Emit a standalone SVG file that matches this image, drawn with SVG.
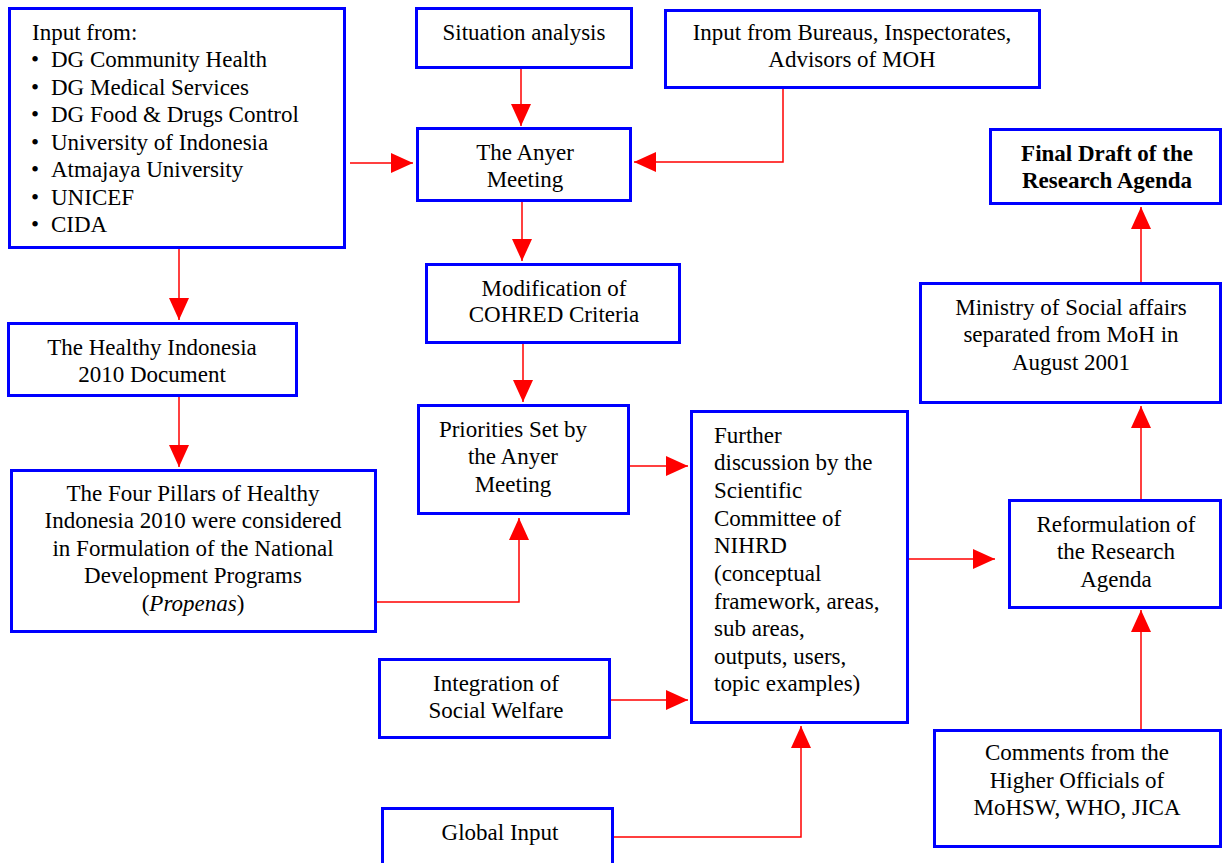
<svg xmlns="http://www.w3.org/2000/svg" width="1223" height="863" viewBox="0 0 1223 863">
<style>
.box{fill:#fff;stroke:#0000ff;stroke-width:3}
.t{font-family:"Liberation Serif","Times New Roman",serif;font-size:23px;fill:#000}
.c{text-anchor:middle}
.b{font-weight:bold}
.ln{fill:none;stroke:#ff0000;stroke-width:1.5}
</style>
<defs>
<marker id="ah" viewBox="0 0 22 20" refX="22" refY="10" markerWidth="22" markerHeight="20" markerUnits="userSpaceOnUse" orient="auto">
<path d="M0,0 L22,10 L0,20 Z" fill="#ff0000"/>
</marker>
</defs>
<rect width="1223" height="863" fill="#fff"/>
<g id="connectors">
<path class="ln" d="M521,68 V126" marker-end="url(#ah)"/>
<path class="ln" d="M350,163 H413" marker-end="url(#ah)"/>
<path class="ln" d="M783,88 V162 H634" marker-end="url(#ah)"/>
<path class="ln" d="M522,201 V261" marker-end="url(#ah)"/>
<path class="ln" d="M523,343 V402" marker-end="url(#ah)"/>
<path class="ln" d="M179,248 V320" marker-end="url(#ah)"/>
<path class="ln" d="M179,396 V467" marker-end="url(#ah)"/>
<path class="ln" d="M376,602 H519 V518" marker-end="url(#ah)"/>
<path class="ln" d="M629,466 H688" marker-end="url(#ah)"/>
<path class="ln" d="M610,700 H688" marker-end="url(#ah)"/>
<path class="ln" d="M613,837 H801 V726" marker-end="url(#ah)"/>
<path class="ln" d="M908,559 H995" marker-end="url(#ah)"/>
<path class="ln" d="M1141,730 V610" marker-end="url(#ah)"/>
<path class="ln" d="M1141,500 V406" marker-end="url(#ah)"/>
<path class="ln" d="M1141,283 V207" marker-end="url(#ah)"/>
</g>
<g id="input">
<rect class="box" x="9.5" y="8.5" width="335" height="239"/>
<text class="t" x="32" y="40">Input from:</text>
<g class="t">
<text x="31" y="67">•</text><text x="51" y="67">DG Community Health</text>
<text x="31" y="95">•</text><text x="51" y="95">DG Medical Services</text>
<text x="31" y="122">•</text><text x="51" y="122">DG Food &amp; Drugs Control</text>
<text x="31" y="150">•</text><text x="51" y="150">University of Indonesia</text>
<text x="31" y="177">•</text><text x="51" y="177">Atmajaya University</text>
<text x="31" y="205">•</text><text x="51" y="205">UNICEF</text>
<text x="31" y="232">•</text><text x="51" y="232">CIDA</text>
</g>
</g>
<g id="situation">
<rect class="box" x="416.5" y="8.5" width="215" height="59"/>
<text class="t c" x="524" y="40">Situation analysis</text>
</g>
<g id="bureaus">
<rect class="box" x="665.5" y="10.5" width="374" height="77"/>
<text class="t c" x="852" y="40">Input from Bureaus, Inspectorates,</text>
<text class="t c" x="852" y="67">Advisors of MOH</text>
</g>
<g id="anyer">
<rect class="box" x="417.5" y="128.5" width="213" height="72"/>
<text class="t c" x="525" y="160">The Anyer</text>
<text class="t c" x="525" y="187">Meeting</text>
</g>
<g id="final">
<rect class="box" x="990.5" y="129.5" width="230" height="74"/>
<text class="t c b" x="1107" y="161">Final Draft of the</text>
<text class="t c b" x="1107" y="188">Research Agenda</text>
</g>
<g id="modification">
<rect class="box" x="426.5" y="264.5" width="253" height="78"/>
<text class="t c" x="554" y="296">Modification of</text>
<text class="t c" x="554" y="322">COHRED Criteria</text>
</g>
<g id="healthy">
<rect class="box" x="8.5" y="323.5" width="288" height="72"/>
<text class="t c" x="152" y="355">The Healthy Indonesia</text>
<text class="t c" x="152" y="382">2010 Document</text>
</g>
<g id="ministry">
<rect class="box" x="920.5" y="283.5" width="300" height="119"/>
<text class="t c" x="1071" y="315">Ministry of Social affairs</text>
<text class="t c" x="1071" y="342">separated from MoH in</text>
<text class="t c" x="1071" y="370">August 2001</text>
</g>
<g id="priorities">
<rect class="box" x="418.5" y="405.5" width="210" height="108"/>
<text class="t c" x="513" y="437">Priorities Set by</text>
<text class="t c" x="513" y="464">the Anyer</text>
<text class="t c" x="513" y="492">Meeting</text>
</g>
<g id="further">
<rect class="box" x="691.5" y="411.5" width="216" height="311"/>
<g class="t">
<text x="714" y="443">Further</text>
<text x="714" y="470">discussion by the</text>
<text x="714" y="498">Scientific</text>
<text x="714" y="526">Committee of</text>
<text x="714" y="553">NIHRD</text>
<text x="714" y="581">(conceptual</text>
<text x="714" y="609">framework, areas,</text>
<text x="714" y="636">sub areas,</text>
<text x="714" y="664">outputs, users,</text>
<text x="714" y="691">topic examples)</text>
</g>
</g>
<g id="pillars">
<rect class="box" x="11.5" y="470.5" width="364" height="161"/>
<text class="t c" x="193" y="501">The Four Pillars of Healthy</text>
<text class="t c" x="193" y="528">Indonesia 2010 were considered</text>
<text class="t c" x="193" y="556">in Formulation of the National</text>
<text class="t c" x="193" y="583">Development Programs</text>
<text class="t c" x="193" y="611">(<tspan font-style="italic">Propenas</tspan>)</text>
</g>
<g id="reformulation">
<rect class="box" x="1009.5" y="500.5" width="211" height="107"/>
<text class="t c" x="1116" y="532">Reformulation of</text>
<text class="t c" x="1116" y="559">the Research</text>
<text class="t c" x="1116" y="587">Agenda</text>
</g>
<g id="integration">
<rect class="box" x="379.5" y="659.5" width="230" height="78"/>
<text class="t c" x="496" y="691">Integration of</text>
<text class="t c" x="496" y="718">Social Welfare</text>
</g>
<g id="global">
<rect class="box" x="382.5" y="808.5" width="230" height="60"/>
<text class="t c" x="500" y="840">Global Input</text>
</g>
<g id="comments">
<rect class="box" x="934.5" y="730.5" width="286" height="116"/>
<text class="t c" x="1077" y="760">Comments from the</text>
<text class="t c" x="1077" y="788">Higher Officials of</text>
<text class="t c" x="1077" y="815">MoHSW, WHO, JICA</text>
</g>
</svg>
